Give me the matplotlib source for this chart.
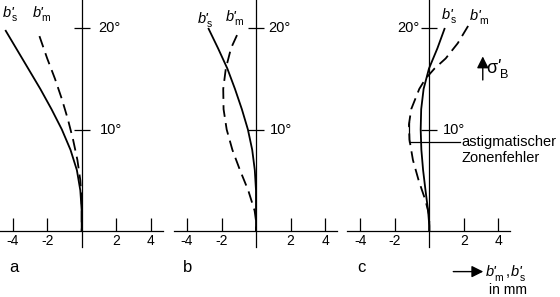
import matplotlib
matplotlib.use("Agg")
import matplotlib.pyplot as plt

plt.rcParams["font.family"] = ["Liberation Sans", "DejaVu Sans"]

# --- data (x in mm, y in degrees) ---
XTICKS = [-4, -2, 2, 4]
XTICK_LABELS = ["-4", "-2", "2", "4"]
YTICKS = [10, 20]
PANELS = ["a", "b", "c"]

A_S_DEG = [19.8, 18, 16, 14, 12, 10, 8, 6, 4, 2, 0]
A_S_MM = [-4.43, -3.8, -3.1, -2.4, -1.75, -1.15, -0.65, -0.28, -0.08, 0, 0]
A_M_DEG = [19.2, 17, 15, 13, 11, 9, 7, 5, 3, 0]
A_M_MM = [-2.45, -2.0, -1.55, -1.15, -0.8, -0.5, -0.25, -0.08, 0, 0]

B_S_DEG = [20, 18, 16, 14, 12, 10, 8, 6, 4, 0]
B_S_MM = [-2.77, -2.2, -1.66, -1.22, -0.82, -0.47, -0.22, -0.07, 0, 0]
B_M_DEG = [19.3, 18, 16, 14, 12, 10, 8, 6, 4, 2, 1, 0]
B_M_MM = [-1.1, -1.45, -1.75, -1.9, -1.88, -1.7, -1.37, -0.93, -0.45, -0.08, 0, 0]

C_S_DEG = [20, 18, 16, 14, 12, 10, 8, 6, 4, 2, 0.5, 0]
C_S_MM = [0.9, 0.47, -0.02, -0.33, -0.47, -0.5, -0.46, -0.36, -0.22, -0.07, 0, 0]
C_M_DEG = [20.2, 18.5, 17, 16, 15, 14, 12, 10.5, 9, 7, 5, 3, 1.5, 0]
C_M_MM = [2.25, 1.65, 0.95, 0.3, -0.22, -0.58, -1.05, -1.18, -1.15, -0.95, -0.62, -0.22, 0, 0]

CURVES = [(A_S_MM, A_S_DEG, A_M_MM, A_M_DEG),
          (B_S_MM, B_S_DEG, B_M_MM, B_M_DEG),
          (C_S_MM, C_S_DEG, C_M_MM, C_M_DEG)]

# --- layout (pixels) ---
W, H = 560, 297
ZERO_PX = [81.7, 256.0, 429.3]
MM_PX = 17.25
DEG_PX = 10.15
X0_PX = 231.0
XLIM = (-4.75, 4.7)
YLIM = (-1.55, 22.76)


def primed(ax, x, y, base, sub, size, italic=True, sub_dx=0.6):
    """base glyph with prime above and subscript below, joined at (x, y) baseline."""
    kw = dict(xycoords="data", textcoords="offset points", va="baseline",
              annotation_clip=False)
    ax.annotate(base, (x, y), xytext=(0, 0), ha="right", fontsize=size,
                style="italic" if italic else "normal", **kw)
    ax.annotate("'", (x, y), xytext=(-0.6, size * 0.02), ha="left",
                fontsize=size, style="italic", **kw)
    ax.annotate(sub, (x, y), xytext=(sub_dx, -size * 0.3), ha="left",
                fontsize=size * 0.7, **kw)


fig = plt.figure(figsize=(W / 100, H / 100), dpi=100)
axes = []
for i, zero in enumerate(ZERO_PX):
    left = zero + XLIM[0] * MM_PX
    width = (XLIM[1] - XLIM[0]) * MM_PX
    bottom_px = X0_PX - YLIM[0] * DEG_PX
    top_px = X0_PX - YLIM[1] * DEG_PX
    ax = fig.add_axes([left / W, (H - bottom_px) / H, width / W,
                       (bottom_px - top_px) / H])
    ax.set_xlim(*XLIM); ax.set_ylim(*YLIM)
    ax.patch.set_alpha(0)
    for s in ("top", "right"):
        ax.spines[s].set_visible(False)
    ax.spines["left"].set_position(("data", 0))
    ax.spines["bottom"].set_position(("data", 0))
    for s in ("left", "bottom"):
        ax.spines[s].set_linewidth(0.9)
    ax.set_xticks(XTICKS)
    ax.set_xticklabels(XTICK_LABELS)
    ax.tick_params(axis="x", direction="in", length=9.5, width=0.9,
                   labelsize=10, pad=2.5)
    ax.set_yticks(YTICKS)
    ax.tick_params(axis="y", direction="inout", length=11, width=0.9,
                   labelleft=False)
    s_mm, s_deg, m_mm, m_deg = CURVES[i]
    ax.plot(s_mm, s_deg, color="black", lw=1.3, solid_capstyle="butt")
    ax.plot(m_mm, m_deg, color="black", lw=1.3, ls=(0, (6.5, 3.5)))
    ax.text(XLIM[0] + 0.8, -3.55, PANELS[i], fontsize=12, ha="center",
            va="center", clip_on=False)
    axes.append(ax)

ax_a, ax_b, ax_c = axes
lbl = dict(fontsize=10.5, va="center")
ax_a.text(0.95, 20, "20°", ha="left", **lbl)
ax_a.text(1.06, 10, "10°", ha="left", **lbl)
ax_b.text(0.71, 20, "20°", ha="left", **lbl)
ax_b.text(0.81, 10, "10°", ha="left", **lbl)
ax_c.text(-0.54, 20, "20°", ha="right", **lbl)
ax_c.text(0.79, 10, "10°", ha="left", **lbl)

# curve labels
primed(ax_a, -4.08, 21.1, "b", "s", 10.5)
primed(ax_a, -2.38, 21.1, "b", "m", 10.5)
primed(ax_b, -2.93, 20.5, "b", "s", 10.5)
primed(ax_b, -1.30, 20.7, "b", "m", 10.5)
primed(ax_c, 1.20, 20.9, "b", "s", 10.5)
primed(ax_c, 2.84, 20.8, "b", "m", 10.5)

# astigmatic zonal error bracket
ax_c.plot([-1.16, -1.16, 1.78], [10.77, 8.8, 8.8], color="black", lw=0.9)
ax_c.text(1.84, 8.42, "astigmatischer", fontsize=10.5, ha="left", va="baseline")
ax_c.text(1.84, 6.75, "Zonenfehler", fontsize=10.5, ha="left", va="baseline")

# field angle arrow
ax_c.annotate("", xy=(3.1, 17.2), xytext=(3.1, 14.88),
              arrowprops=dict(arrowstyle="-|>,head_length=0.7,head_width=0.35",
                              color="black", lw=1.0, shrinkA=0, shrinkB=0))
primed(ax_c, 3.92, 15.6, "\u03c3", "B", 13, italic=False, sub_dx=2.4)

# bottom axis legend
ax_c.annotate("", xy=(3.13, -4.0), xytext=(1.39, -4.0), annotation_clip=False,
              arrowprops=dict(arrowstyle="-|>,head_length=0.7,head_width=0.35",
                              color="black", lw=1.0, shrinkA=0, shrinkB=0))
primed(ax_c, 3.72, -4.45, "b", "m", 10.5)
ax_c.text(4.42, -4.45, ",", fontsize=10.5, ha="left", va="baseline", clip_on=False)
primed(ax_c, 5.2, -4.45, "b", "s", 10.5)
ax_c.text(3.46, -5.8, "in mm", fontsize=10, ha="left", va="center", clip_on=False)

fig.savefig("out.png", dpi=100)
